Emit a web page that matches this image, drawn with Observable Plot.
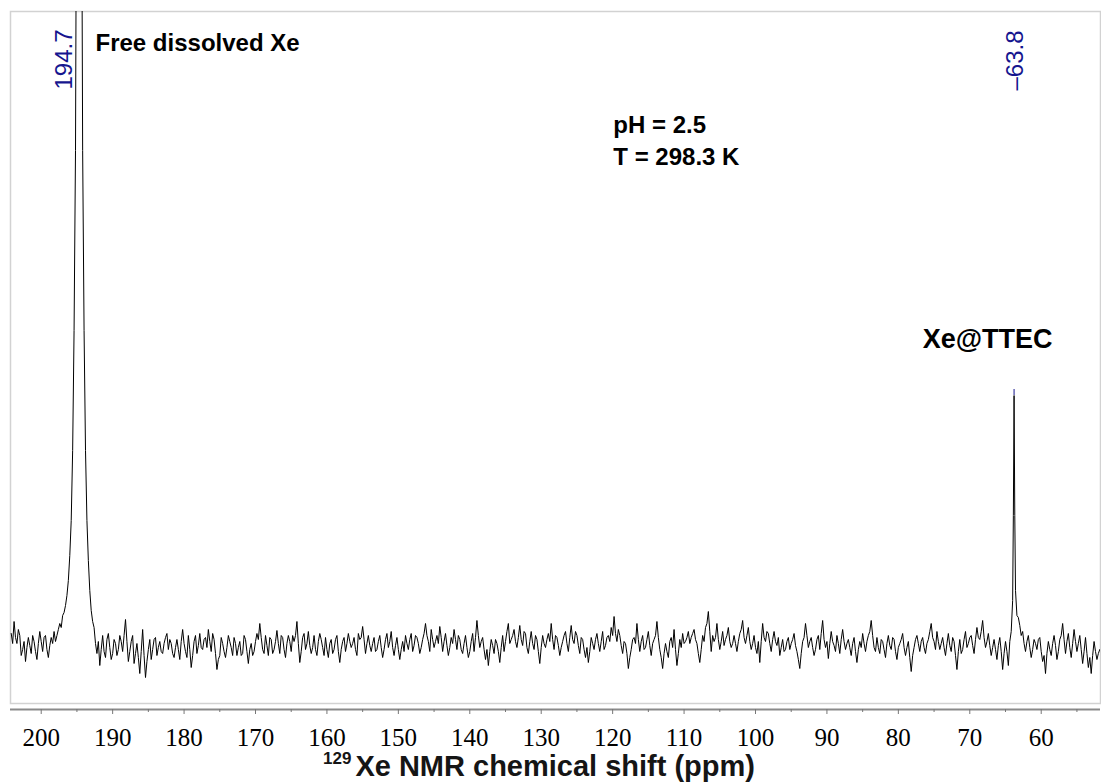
<!DOCTYPE html>
<html><head><meta charset="utf-8">
<script src="https://cdn.jsdelivr.net/npm/d3@7"></script>
<script src="https://cdn.jsdelivr.net/npm/@observablehq/plot@0.6"></script>
<style>body{margin:0;background:#fff;} svg{display:block}</style>
</head><body><div id="chart"></div>
<script>
// ---- data (129Xe NMR spectrum, intensity in arbitrary units, baseline = 0) ----
const step = 0.2; // ppm spacing of the baseline samples
const seg1Start = 204.2;
const seg1 = [12, 2, 24, 8, 2, 16, 10, -10, -4, 4, -16, -2, 8, 0, -8, 10, 4, -6, -14, 2, 14, 4, -6, 8, 10, -4, -12, 0, 8, 2, 14, 4, 10, 16, 22, 18, 30];
const peak1Ppm = [196.8, 196.6, 196.4, 196.2, 196.0, 195.8, 195.6, 195.4, 195.2, 195.0, 194.85, 194.7, 194.55, 194.4, 194.2, 194.0, 193.8, 193.6, 193.4, 193.2, 193.0, 192.8];
const peak1Int = [33, 40, 50, 65, 90, 125, 195, 315, 495, 900, 1800, 3000, 1800, 900, 495, 315, 195, 125, 85, 55, 35, 24];
const seg2Start = 192.6;
const seg2 = [
  18, 2, -8, 4, -20, -4, 10, -6, -12, 6, 12, -2, -14, -8, 6, 2, -10, -4, 10, 4,
  -6, 10, 26, 4, -16, -6, 4, 10, -18, -8, 2, -12, -28, -6, 16, -10, -32, -16, -4, 6,
  -14, -4, 6, 8, -10, -2, 4, -6, -8, 2, 8, 12, -4, 6, 2, -8, -12, -2, 6, -4,
  -14, 4, 16, 2, -6, -12, 10, -4, -22, -10, 4, 10, -8, 0, 12, -2, -4, 6, 8, -2,
  16, 4, -6, 12, 6, -8, -24, -14, -10, 8, 2, -6, -12, -2, 10, 4, -2, -10, 8, 2,
  -10, -2, 4, -10, -8, 10, 6, -6, -18, -4, 2, -10, -6, 4, 12, 6, 22, 8, -4, -8,
  10, 0, -10, 8, 6, -8, -4, 4, 15, 2, -8, 10, 8, -4, -12, 2, 10, 4, -6, 10,
  4, 10, 24, 2, -17, -6, 8, 12, -4, 2, 14, 0, -8, -2, 10, -4, -10, 4, 12, 6,
  -2, -10, 8, -4, -12, 2, 6, -8, -4, 6, 10, -6, -17, -4, 4, 8, -6, 2, 12, 4,
  -2, 2, 8, -4, -10, 12, 6, 8, 19, 6, -8, 2, 10, 0,
  -6, 2, 8, -6, -4, 4, 10, -2, -12, -4, 6, 12, -2, 4, 14, -2, -10, 0, 8, -4,
  -14, -4, 4, -6, 10, 2, -4, 6, 12, -6, 0, 10, 8, 2, -8, -2, 6, 12, 22, 10,
  4, -6, 16, 6, -2, 4, 10, 2, 19, 8, -6, 4, 12, 0, -10, -2, 8, 2, 16, 6,
  -4, 10, 6, -4, -8, 2, 10, -2, -12, -6, 4, 12, -6, 8, 25, 10, -2, 4, 8, -4,
  -14, -4, -20, -6, 6, 0, -8, 6, 2, -6, -17, -2, 10, -6, 4, 14, 22, 2, 6, 10,
  16, 4, -2, 8, 20, 6, 0, 14, 12, -2, -8, 4, 14, 2, -4, 10, 6, -6, -18, -2,
  10, 2, -2, 6, 12, 4, 22, 6, -4, 10, 8, 0, -10, -2, 4, 10, 14, 2, -6, 8,
  20, 6, 2, 14, 10, 0, -8, 8, 6, -4, -12, -2, -17, -6, 8, 2, -4, 6, 12, 2,
  -6, 4, 14, -4, 0, 8, 10, 4, 18, 10, 29, 12, 4, 16, 10, 0, -8, 4, 2, -8,
  -23, -12, -4, 6, 8, 2, 22, 6, -6, 4, 10, -4, -2, 6, 14, 0, -10, 2, 6, 10,
  24, 8, -4, -12, -23, -8, 2, -6, -12, 4, 8, -2, 16, -4, -20, -8, 6, -2, 12, 2,
  4, 8, 14, 2, 8, 12, 16, 6, 2, -8, -17, -4, 10, 4, 18, 22, 34, 14, -6, 10,
  4, 8, 22, 6, -4, 4, 14, 0, 6, 10, 18, 4, -2, 2,
  10, 2, -6, 4, 12, 16, 25, 8, 2, 10, 18, 4, -4, 2, 10, -2, -8, 4, -17, 4,
  22, 8, 4, 14, 12, 2, -6, 6, 14, 4, 0, 8, -10, -2, 6, -6, -4, 4, 8, -4,
  2, 6, 12, 0, -6, -14, -23, -8, 4, 8, 22, 10, -2, 4, 8, -2, -10, -4, 6, 10,
  -4, 12, 25, 6, -2, 4, -13, 2, 14, 4, 0, -6, 10, 2, -8, 6, 16, 4, -4, 2,
  6, -2, -10, 2, 8, -6, -17, -4, 4, -2, 12, 2, -6, 4, 10, 14, 25, 10, -2, -6,
  8, -2, -8, 6, 4, -4, -12, 2, 10, 0, -4, 8, 6, -6, -14, -2, 2, 6, 12, -2,
  -10, -2, 4, -12, -26, -10, -2, 6, 10, 2, -6, 4, 8, -2, -8, 2, 6, 14, 22, 8,
  4, -4, 14, 4, -4, 2, 8, -2, -10, 2, 12, 0, -6, 8, 4, -10, -24, -6, 6, -8,
  -4, 6, 14, -2, 2, 8, 10, 0, -8, 6, 18, 8, 6, 14, 25, 8, -2, 4, 12, 0,
  -10, -2, 6, -4, -14, 0, 8, -6, -24, -8, 4, -6, -20
];
const peak2Ppm = [64.4, 64.2, 64.0, 63.9, 63.8, 63.7, 63.6, 63.4, 63.2, 63.0, 62.8];
const peak2Int = [4, 14, 45, 130, 250, 130, 55, 30, 28, 20, 10];
const seg3Start = 62.6;
const seg3 = [14, 2, -6, 4, 10, -2, -12, -4, 6, 2, -4, 6, 8, -6, -16, -10, -28, -8, 4, -4, -10, 2, 10, 0, -14, -6, 6, 10, 22, 6, -8, 4, 12, -2, -12, 2, 16, 4, -6, 2, 10, -4, -18, -6, 8, -8, -22, -12, -28, -10, 4, -6, -14, -8, -4];

const majorTicks = [200, 190, 180, 170, 160, 150, 140, 130, 120, 110, 100, 90, 80, 70, 60];
const minorTicks = [195, 185, 175, 165, 155, 145, 135, 125, 115, 105, 95, 85, 75, 65, 55];
const peakShifts = ["194.7", "63.8"];
const annotations = ["Free dissolved Xe", "pH = 2.5", "T = 298.3 K", "Xe@TTEC"];

// ---- build spectrum table ----
const spectrum = [];
seg1.forEach((v, k) => spectrum.push({ppm: seg1Start - k * step, intensity: v}));
peak1Ppm.forEach((p, k) => spectrum.push({ppm: p, intensity: peak1Int[k]}));
seg2.forEach((v, k) => spectrum.push({ppm: seg2Start - k * step, intensity: v}));
peak2Ppm.forEach((p, k) => spectrum.push({ppm: p, intensity: peak2Int[k]}));
seg3.forEach((v, k) => spectrum.push({ppm: seg3Start - k * step, intensity: v}));
spectrum.sort((a, b) => b.ppm - a.ppm);

const yMin = -64, yMax = 634;
const blue = "#16168f";
const sans = "Liberation Sans, Arial, Helvetica, sans-serif";

const svg = Plot.plot({
  width: 1101, height: 784,
  marginLeft: 10, marginRight: 1, marginTop: 11, marginBottom: 75,
  x: {domain: [204.3, 51.7], axis: null},
  y: {domain: [yMin, yMax], axis: null},
  style: {background: "white", fontFamily: sans},
  marks: [
    Plot.frame({stroke: "#d2d2d2", strokeWidth: 1.5, insetBottom: 6}),
    Plot.line(spectrum, {x: "ppm", y: "intensity", stroke: "black", strokeWidth: 1, clip: true}),
    Plot.ruleY([yMin], {stroke: "#8a8a8a", strokeWidth: 2}),
    Plot.axisX(majorTicks, {anchor: "bottom", tickSize: 5, tickPadding: 14, fontSize: 25, fontFamily: "Liberation Serif, Times New Roman, serif", stroke: "#777", fill: "black", label: null}),
    Plot.axisX(minorTicks, {anchor: "bottom", tickSize: 3, tickFormat: () => "", stroke: "#777", label: null}),
    // peak shift labels
    Plot.text([peakShifts[0]], {x: +peakShifts[0], text: d => d, frameAnchor: "top", rotate: -90, textAnchor: "end", dy: 18, dx: -24, fontSize: 24, fill: blue}),
    Plot.text([peakShifts[1]], {x: +peakShifts[1], text: d => "\u2013" + d, frameAnchor: "top", rotate: -90, textAnchor: "end", dy: 19, dx: -8, fontSize: 24, fill: blue}),
    Plot.ruleX([+peakShifts[1]], {y1: d3.max(peak2Int), y2: d3.max(peak2Int) + 6, stroke: blue, strokeWidth: 1}),
    // annotations
    Plot.text([annotations[0]], {x: 192.4, y: 601.7, text: d => d, textAnchor: "start", fontSize: 24, fontWeight: "bold", fill: "black"}),
    Plot.text([annotations[1]], {x: 119.9, y: 519.7, text: d => d, textAnchor: "start", fontSize: 24, fontWeight: "bold", fill: "black"}),
    Plot.text([annotations[2]], {x: 119.9, y: 487.7, text: d => d, textAnchor: "start", fontSize: 24, fontWeight: "bold", fill: "black"}),
    Plot.text([annotations[3]], {x: 76.6, y: 306, text: d => d, textAnchor: "start", fontSize: 27, fontWeight: "bold", fill: "black"})
  ]
});
document.getElementById("chart").appendChild(svg);

// axis title with superscript mass number
const t = d3.select(svg).append("text")
  .attr("x", 323).attr("y", 776).attr("text-anchor", "start")
  .attr("font-family", sans).attr("fill", "#151515");
t.append("tspan").attr("font-size", 17).attr("font-weight", "bold").attr("dy", -12).text("129");
t.append("tspan").attr("font-size", 29).attr("font-weight", "bold").attr("dx", 4).attr("dy", 12).text("Xe NMR chemical shift (ppm)");
</script>
</body></html>
